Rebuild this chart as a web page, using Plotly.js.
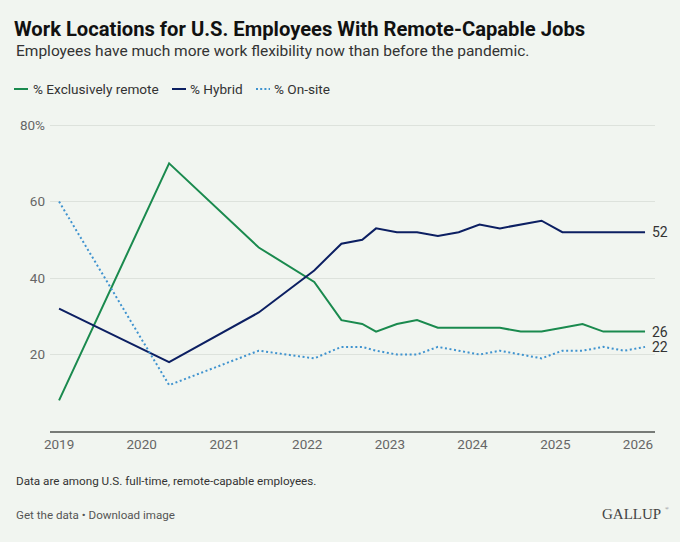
<!DOCTYPE html>
<html>
<head>
<meta charset="utf-8">
<script src="https://cdn.plot.ly/plotly-3.0.1.min.js"></script>
<style>
  html, body { margin: 0; padding: 0; background: #f1f5f0; }
  #chart { width: 680px; height: 542px; }
</style>
</head>
<body>
<div id="chart"></div>
<script>
// ---- Data ----
const dates = [
  "2019-01-01", "2020-05-01", "2021-06-01", "2022-02-01", "2022-06-01",
  "2022-09-01", "2022-11-01", "2023-02-01", "2023-05-01", "2023-08-01",
  "2023-11-01", "2024-02-01", "2024-05-01", "2024-08-01", "2024-11-01",
  "2025-02-01", "2025-05-01", "2025-08-01", "2025-11-01", "2026-02-01"
];
const exclusivelyRemote = [8, 70, 48, 39, 29, 28, 26, 28, 29, 27, 27, 27, 27, 26, 26, 27, 28, 26, 26, 26];
const hybrid            = [32, 18, 31, 42, 49, 50, 53, 52, 52, 51, 52, 54, 53, 54, 55, 52, 52, 52, 52, 52];
const onSite            = [60, 12, 21, 19, 22, 22, 21, 20, 20, 22, 21, 20, 21, 20, 19, 21, 21, 22, 21, 22];

const seriesNames = ["% Exclusively remote", "% Hybrid", "% On-site"];
const xTickVals = ["2019-01-01", "2020-01-01", "2021-01-01", "2022-01-01", "2023-01-01", "2024-01-01", "2025-01-01", "2026-01-01"];
const xTickText = ["2019", "2020", "2021", "2022", "2023", "2024", "2025", "2026"];
const yTickVals = [20, 40, 60, 80];
const yTickText = ["20", "40", "60", "80%"];

// ---- Styles ----
const GREEN = "#1a8a4e";
const NAVY = "#0c1f62";
const BLUE = "#3f93cf";
const FONT = "Roboto, 'Noto Sans', sans-serif";

// plot area in pixels: x 50..655, y 124..431
const L = 50, R = 655, T = 124, B = 431;
const px = x => (x - L) / (R - L);
const py = y => (B - y) / (B - T);

const seriesVals = [exclusivelyRemote, hybrid, onSite];
const colors = [GREEN, NAVY, BLUE];
const dashes = ["solid", "solid", "2px,2.6px"];

const traces = seriesVals.map((vals, i) => ({
  type: "scatter",
  mode: "lines",
  name: seriesNames[i],
  x: dates,
  y: vals,
  line: { color: colors[i], width: 2, dash: dashes[i] },
  hoverinfo: "x+y+name",
  showlegend: false
}));

const annotations = [];
// End labels
seriesVals.forEach((vals, i) => {
  annotations.push({
    x: dates[dates.length - 1], y: vals[vals.length - 1],
    xref: "x", yref: "y",
    text: String(vals[vals.length - 1]),
    showarrow: false, xanchor: "left", yanchor: "middle", xshift: 5,
    font: { family: FONT, size: 14, color: "#333333" }
  });
});

// Subtitle
annotations.push({
  xref: "paper", yref: "paper", x: px(14), y: py(51),
  xanchor: "left", yanchor: "middle", showarrow: false,
  text: "Employees have much more work flexibility now than before the pandemic.",
  font: { family: FONT, size: 15.5, color: "#333333" }
});

// Custom legend
const legendItems = [
  { x0: 14, x1: 28, tx: 31, dash: "solid" },
  { x0: 172, x1: 186, tx: 188, dash: "solid" },
  { x0: 256, x1: 270, tx: 272, dash: "2px,2.2px" }
];
const shapes = [];
legendItems.forEach((it, i) => {
  shapes.push({
    type: "line", xref: "paper", yref: "paper",
    x0: px(it.x0), x1: px(it.x1), y0: py(89), y1: py(89),
    line: { color: colors[i], width: 2, dash: it.dash }
  });
  annotations.push({
    xref: "paper", yref: "paper", x: px(it.tx), y: py(89),
    xanchor: "left", yanchor: "middle", showarrow: false,
    text: seriesNames[i],
    font: { family: FONT, size: 13.6, color: "#333333" }
  });
});

// Footer
annotations.push({
  xref: "paper", yref: "paper", x: px(14), y: py(481),
  xanchor: "left", yanchor: "middle", showarrow: false,
  text: "Data are among U.S. full-time, remote-capable employees.",
  font: { family: FONT, size: 11.7, color: "#333333" }
});
annotations.push({
  xref: "paper", yref: "paper", x: px(14), y: py(515),
  xanchor: "left", yanchor: "middle", showarrow: false,
  text: "Get the data \u2022 Download image",
  font: { family: FONT, size: 11.6, color: "#555555" }
});
annotations.push({
  xref: "paper", yref: "paper", x: px(663), y: py(514),
  xanchor: "right", yanchor: "middle", showarrow: false,
  text: "GALLUP",
  font: { family: "'Liberation Serif', 'DejaVu Serif', serif", size: 15, color: "#444444" }
});
annotations.push({
  xref: "paper", yref: "paper", x: px(663), y: py(508),
  xanchor: "left", yanchor: "middle", showarrow: false,
  text: "\u00ae",
  font: { family: "'Liberation Serif', 'DejaVu Serif', serif", size: 5, color: "#666666" }
});

const layout = {
  width: 680, height: 542,
  paper_bgcolor: "#f1f5f0",
  plot_bgcolor: "#f1f5f0",
  margin: { l: L, r: 680 - R, t: T, b: 542 - B, pad: 0 },
  title: {
    text: "<b>Work Locations for U.S. Employees With Remote-Capable Jobs</b>",
    x: 14 / 680, xanchor: "left", xref: "container",
    y: 1 - 29 / 542, yanchor: "middle", yref: "container",
    font: { family: FONT, size: 20.2, color: "#111111" }
  },
  xaxis: {
    type: "date",
    range: ["2018-11-22", "2026-03-17"],
    tickvals: xTickVals, ticktext: xTickText,
    showgrid: false, zeroline: false,
    showline: true, linecolor: "#777b77", linewidth: 2,
    ticks: "",
    tickfont: { family: FONT, size: 13.5, color: "#666666" },
    fixedrange: true
  },
  yaxis: {
    range: [0, 80.3],
    tickvals: yTickVals, ticktext: yTickText,
    showgrid: true, gridcolor: "#dde2dc", gridwidth: 1,
    zeroline: false, showline: false,
    ticks: "", ticklabelstandoff: 4,
    tickfont: { family: FONT, size: 13.5, color: "#666666" },
    fixedrange: true
  },
  showlegend: false,
  shapes: shapes,
  annotations: annotations,
  hovermode: "closest"
};

Plotly.newPlot("chart", traces, layout, { displayModeBar: false, responsive: false });
</script>
</body>
</html>
